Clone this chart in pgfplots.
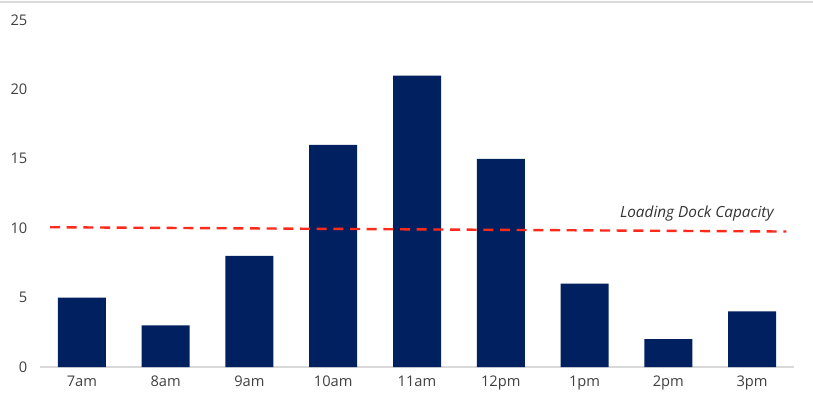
\documentclass[border=0pt]{standalone}
\usepackage{pgfplots}
\pgfplotsset{compat=1.18}
\usepackage{fontspec}
\setmainfont{Open Sans}
\definecolor{navy}{HTML}{002060}
\definecolor{lbl}{HTML}{404040}
\definecolor{dockred}{HTML}{FF2A1A}
\begin{document}
\begin{tikzpicture}
\useasboundingbox (0pt,0pt) rectangle (609.75pt,303pt);
\draw[color=black!15, line width=1.5pt] (0pt,301.5pt) -- (609.75pt,301.5pt);
\begin{axis}[
  scale only axis,
  width=565.5pt, height=260.25pt,
  at={(30pt,27.75pt)}, anchor=south west,
  xmin=-0.5, xmax=8.5, ymin=0, ymax=25,
  ytick={0,5,10,15,20,25},
  xtick={0,...,8},
  xticklabels={7am,8am,9am,10am,11am,12pm,1pm,2pm,3pm},
  axis x line*=bottom, axis y line*=left,
  y axis line style={draw=none},
  x axis line style={color=black!15, line width=1pt},
  major tick length=0pt,
  tick label style={font=\fontsize{11}{13}\selectfont, text=lbl},
  /pgf/number format/assume math mode=true,
  yticklabel style={xshift=-6pt},
  xticklabel style={yshift=-3pt},
  clip=false,
]
\addplot[ybar, bar width=36pt, fill=navy, draw=none, bar shift=0pt]
  coordinates {(0,5) (1,3) (2,8) (3,16) (4,21) (5,15) (6,6) (7,2) (8,4)};
\addplot[dockred, line width=1.8pt, dash pattern=on 7.5pt off 5pt]
  coordinates {(-0.38,10.07) (8.41,9.76)};
\node[font=\itshape\fontsize{11.5}{13}\selectfont, text=black!80] at (axis cs:7.34,11.05) {Loading Dock Capacity};
\end{axis}
\end{tikzpicture}
\end{document}
